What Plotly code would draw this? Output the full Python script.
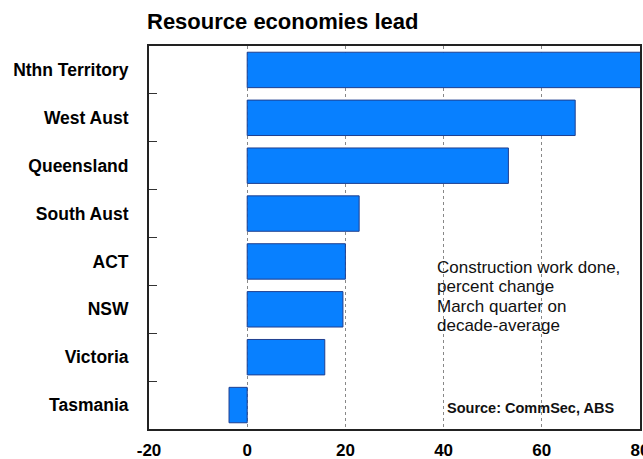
import plotly.graph_objects as go

# Construction work done, March quarter vs decade average (% change)
states = ["Nthn Territory", "West Aust", "Queensland", "South Aust",
          "ACT", "NSW", "Victoria", "Tasmania"]
pct_change = [82, 66.8, 53.2, 22.8, 20.0, 19.5, 15.8, -3.7]
x_ticks = [-20, 0, 20, 40, 60, 80]

note_lines = ["Construction work done,", "percent change",
              "March quarter on", "decade-average"]

FONT = "Liberation Sans, Arial, sans-serif"

fig = go.Figure(
    go.Bar(
        x=pct_change,
        y=states,
        orientation="h",
        marker=dict(color="#0880FF", line=dict(color="#1F3F8F", width=1)),
        width=0.74,
    )
)

fig.update_layout(
    width=643,
    height=459,
    margin=dict(l=149, r=3, t=46, b=30),
    paper_bgcolor="white",
    plot_bgcolor="white",
    showlegend=False,
    font=dict(family=FONT, color="black"),
)

fig.update_xaxes(
    range=[-20, 80],
    tickvals=x_ticks,
    ticktext=[str(v) for v in x_ticks],
    tickfont=dict(family=FONT, size=17, color="black", weight="bold"),
    ticklabeloverflow="allow",
    automargin=False,
    showgrid=True,
    gridcolor="#888888",
    griddash="dot",
    gridwidth=1,
    zeroline=False,
    showline=True,
    linecolor="#222222",
    linewidth=2,
    mirror=True,
    ticks="",
    ticklabelstandoff=5,
)

fig.update_yaxes(
    categoryorder="array",
    categoryarray=states,
    autorange="reversed",
    automargin=False,
    tickfont=dict(family=FONT, size=17.5, color="black", weight="bold"),
    showgrid=False,
    showline=True,
    linecolor="#222222",
    linewidth=2,
    mirror=True,
    ticks="inside",
    tickson="boundaries",
    ticklen=8,
    tickcolor="#333333",
    tickwidth=1,
    ticklabelstandoff=15,
)

fig.add_annotation(
    text="<b>Resource economies lead</b>",
    xref="paper", yref="paper",
    x=-0.008, y=1.0627, xanchor="left", yanchor="middle",
    showarrow=False,
    font=dict(family=FONT, size=22, color="black"),
)

# Explanatory note, one line per annotation for tight line spacing
for i, line in enumerate(note_lines):
    fig.add_annotation(
        text=line,
        xref="x", yref="paper",
        x=38.3, y=0.422 - i * 0.0509, xanchor="left", yanchor="middle",
        showarrow=False,
        font=dict(family=FONT, size=17, color="#111111"),
    )

fig.add_annotation(
    text="<b>Source: CommSec, ABS</b>",
    xref="x", yref="paper",
    x=40.3, y=0.055, xanchor="left", yanchor="middle",
    showarrow=False,
    font=dict(family=FONT, size=14.5, color="#111111"),
)

fig.write_html("out.html")
